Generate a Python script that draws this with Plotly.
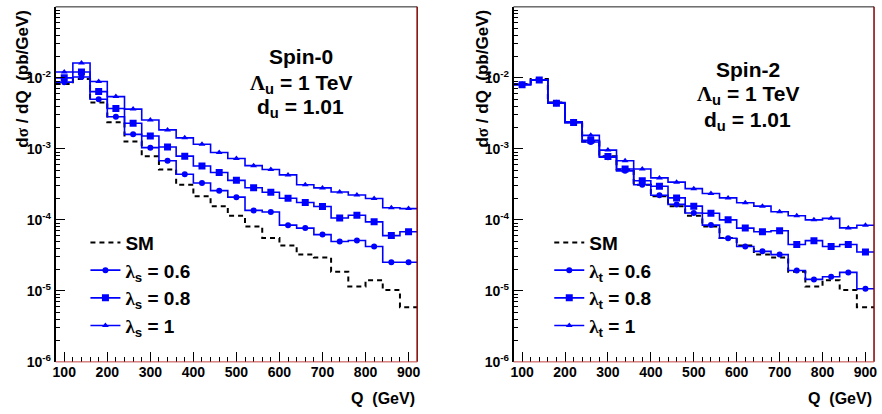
import numpy as np
import plotly.graph_objects as go

# ---- data ----
bin_edges = list(range(80, 921, 40))           # 21 bins of 40 GeV
bin_centers = [e + 20 for e in bin_edges[:-1]]

sm = [0.0082, 0.0096, 0.0045, 0.00237, 0.00127, 0.00079, 0.00051, 0.000313,
      0.000215, 0.000156, 0.000114, 0.0000807, 0.0000557, 0.0000435, 0.0000324,
      0.0000294, 0.0000186, 0.0000115, 0.0000141, 0.0000103, 0.0000059]

spin0_l06 = [0.0087, 0.0103, 0.0050, 0.00284, 0.0016, 0.00104, 0.00068, 0.00044,
             0.00033, 0.000258, 0.000209, 0.000136, 0.000129, 0.0000843, 0.0000766,
             0.000062, 0.0000495, 0.0000513, 0.0000422, 0.0000253, 0.0000253]
spin0_l08 = [0.0100, 0.0121, 0.0064, 0.00371, 0.0023, 0.00152, 0.00106, 0.00079,
             0.000575, 0.000464, 0.00036, 0.000284, 0.000245, 0.000202, 0.000176,
             0.000154, 0.000106, 0.000116, 0.0000938, 0.000060, 0.000068]
spin0_l10 = [0.0121, 0.0162, 0.0089, 0.00545, 0.00363, 0.00255, 0.00185, 0.00143,
             0.00116, 0.00089, 0.00073, 0.00058, 0.000512, 0.00043, 0.000313,
             0.000282, 0.000247, 0.000224, 0.0002, 0.000148, 0.000144]

spin2_l06 = [0.0080, 0.0093, 0.0044, 0.00234, 0.00125, 0.00076, 0.00049, 0.000313,
             0.000222, 0.000165, 0.000125, 0.0000844, 0.000055, 0.0000422, 0.000036,
             0.0000324, 0.0000194, 0.0000145, 0.0000158, 0.0000182, 0.0000107]
spin2_l08 = [0.0080, 0.0093, 0.0044, 0.00236, 0.00132, 0.00078, 0.00052, 0.000356,
             0.000297, 0.000204, 0.000156, 0.000124, 0.0001, 0.0000766, 0.000068,
             0.0000704, 0.000045, 0.000051, 0.0000422, 0.000045, 0.0000352]
spin2_l10 = [0.0081, 0.0094, 0.0045, 0.0024, 0.00155, 0.00096, 0.00068, 0.00052,
             0.00039, 0.00034, 0.000275, 0.000235, 0.000204, 0.000174, 0.000156,
             0.00013, 0.000114, 0.0001, 0.000105, 0.000077, 0.000084]

x_ticks = [100, 200, 300, 400, 500, 600, 700, 800, 900]
y_tick_vals = [1e-6, 1e-5, 1e-4, 1e-3, 1e-2, 1e-1]
y_tick_text = ["<b>10<sup>-6</sup></b>", "<b>10<sup>-5</sup></b>", "<b>10<sup>-4</sup></b>",
               "<b>10<sup>-3</sup></b>", "<b>10<sup>-2</sup></b>", "<b>10<sup>-1</sup></b>"]

panels = [
    dict(label="Spin-0", sub="s", series=[spin0_l06, spin0_l08, spin0_l10]),
    dict(label="Spin-2", sub="t", series=[spin2_l06, spin2_l08, spin2_l10]),
]
lam_vals = ["0.6", "0.8", "1"]
markers = [("circle", 6), ("square", 7), ("triangle-up", 6)]

FONT = "Liberation Sans, Arial, Helvetica, sans-serif"
SERIF = "Liberation Serif"
BLUE = "#0000ff"

W, H = 882, 414
x_domains = [[53 / W, 417 / W], [514 / W, 877 / W]]
y_domain = [(H - 369) / H, (H - 7) / H]

fig = go.Figure()

minor_y = [m * 10.0 ** e for e in range(-6, -1) for m in range(2, 10)]

for i, p in enumerate(panels):
    xa = "x" if i == 0 else "x2"
    ya = "y" if i == 0 else "y2"
    leg = "legend" if i == 0 else "legend2"
    # SM step line
    fig.add_trace(go.Scatter(
        x=bin_edges, y=sm + [sm[-1]], mode="lines", line_shape="hv",
        line=dict(color="black", width=2, dash="5px,4px"),
        xaxis=xa, yaxis=ya, showlegend=False, hoverinfo="skip"))
    for s, vals in enumerate(p["series"]):
        fig.add_trace(go.Scatter(
            x=bin_edges, y=vals + [vals[-1]], mode="lines", line_shape="hv",
            line=dict(color=BLUE, width=1.6),
            xaxis=xa, yaxis=ya, showlegend=False, hoverinfo="skip"))
        sym, sz = markers[s]
        fig.add_trace(go.Scatter(
            x=bin_centers, y=vals, mode="markers",
            marker=dict(symbol=sym, size=sz, color=BLUE),
            xaxis=xa, yaxis=ya, showlegend=False))
    # legend entries
    fig.add_trace(go.Scatter(
        x=[None], y=[None], mode="lines", name="SM",
        line=dict(color="black", width=2, dash="5px,4px"),
        xaxis=xa, yaxis=ya, legend=leg))
    for s in range(3):
        sym, sz = markers[s]
        fig.add_trace(go.Scatter(
            x=[None], y=[None], mode="lines+markers",
            name=f"<span style='font-family:{SERIF}'>λ</span><sub>{p['sub']}</sub> = {lam_vals[s]}",
            line=dict(color=BLUE, width=1.6),
            marker=dict(symbol=sym, size=sz, color=BLUE),
            xaxis=xa, yaxis=ya, legend=leg))

axis_common_x = dict(
    type="linear", range=[80, 920], tickvals=x_ticks,
    ticktext=[f"<b>{v}</b>" for v in x_ticks],
    ticks="inside", ticklen=10, tickwidth=1, tickcolor="black",
    minor=dict(dtick=20, tick0=80, ticks="inside", ticklen=5, tickcolor="black", showgrid=False),
    showgrid=False, zeroline=False, showline=False, ticklabeloverflow="allow",
    tickfont=dict(family=FONT, size=14, color="black"),
)
axis_common_y = dict(
    type="log", range=[-6, -1], tickvals=y_tick_vals, ticktext=y_tick_text,
    ticks="inside", ticklen=10, tickwidth=1, tickcolor="black",
    minor=dict(tickvals=minor_y, ticks="inside", ticklen=5, tickcolor="black", showgrid=False),
    showgrid=False, zeroline=False, showline=True, linecolor="black", linewidth=1.5,
    tickfont=dict(family=FONT, size=14, color="black"), domain=y_domain,
)

fig.update_layout(
    width=W, height=H, margin=dict(l=0, r=0, t=0, b=0),
    paper_bgcolor="white", plot_bgcolor="white",
    font=dict(family=FONT, color="black"),
    xaxis=dict(axis_common_x, domain=x_domains[0], anchor="y"),
    yaxis=dict(axis_common_y, anchor="x"),
    xaxis2=dict(axis_common_x, domain=x_domains[1], anchor="y2"),
    yaxis2=dict(axis_common_y, anchor="x2"),
    legend=dict(x=83 / W, y=(H - 228) / H, xanchor="left", yanchor="top",
                bgcolor="rgba(0,0,0,0)", font=dict(family=FONT, size=19, color="black", weight="bold"),
                itemwidth=30, tracegroupgap=0),
    legend2=dict(x=550 / W, y=(H - 228) / H, xanchor="left", yanchor="top",
                 bgcolor="rgba(0,0,0,0)", font=dict(family=FONT, size=19, color="black", weight="bold"),
                 itemwidth=30, tracegroupgap=0),
    showlegend=True,
)

# frame lines (top, right, bottom)
for i in range(2):
    xr = "x domain" if i == 0 else "x2 domain"
    yr = "y domain" if i == 0 else "y2 domain"
    fig.add_shape(type="line", xref=xr, yref=yr, x0=0, x1=1, y0=1, y1=1,
                  line=dict(color="#202020", width=1))
    fig.add_shape(type="line", xref=xr, yref=yr, x0=1, x1=1, y0=0, y1=1,
                  line=dict(color="#800000", width=1.5))
    fig.add_shape(type="line", xref=xr, yref=yr, x0=0, x1=1, y0=0, y1=0,
                  line=dict(color="#c04040", width=1))

# panel labels
label_pos = [(300, [58, 86, 110]), (750, [71, 97, 123])]
for i, p in enumerate(panels):
    cx, ys = label_pos[i]
    texts = [
        f"<b>{p['label']}</b>",
        f"<b><span style='font-family:{SERIF}'>Λ</span><sub>u</sub> = 1 TeV</b>",
        "<b>d<sub>u</sub> = 1.01</b>",
    ]
    for t, yy in zip(texts, ys):
        fig.add_annotation(xref="paper", yref="paper", x=cx / W, y=(H - yy) / H,
                           text=t, showarrow=False, xanchor="center", yanchor="middle",
                           font=dict(family=FONT, size=21, color="black"))

# axis titles
ytitle = f"<b>d<span style='font-family:{SERIF}'>σ</span> / dQ\u00a0\u00a0(pb/GeV)</b>"
for cx in (20, 483):
    fig.add_annotation(xref="paper", yref="paper", x=cx / W, y=(H - 8) / H,
                       text=ytitle, showarrow=False, textangle=-90,
                       xanchor="center", yanchor="top",
                       font=dict(family=FONT, size=17, color="black"))
for rx in (417, 877):
    fig.add_annotation(xref="paper", yref="paper", x=rx / W, y=(H - 406) / H,
                       text="<b>Q\u00a0\u00a0(GeV)</b>", showarrow=False,
                       xanchor="right", yanchor="middle",
                       font=dict(family=FONT, size=16, color="black"))

post = ("document.body.style.margin='0';document.body.style.padding='0';"
        "document.body.style.overflow='hidden';")

fig.write_html("out.html", config={"displayModeBar": False}, post_script=post)
